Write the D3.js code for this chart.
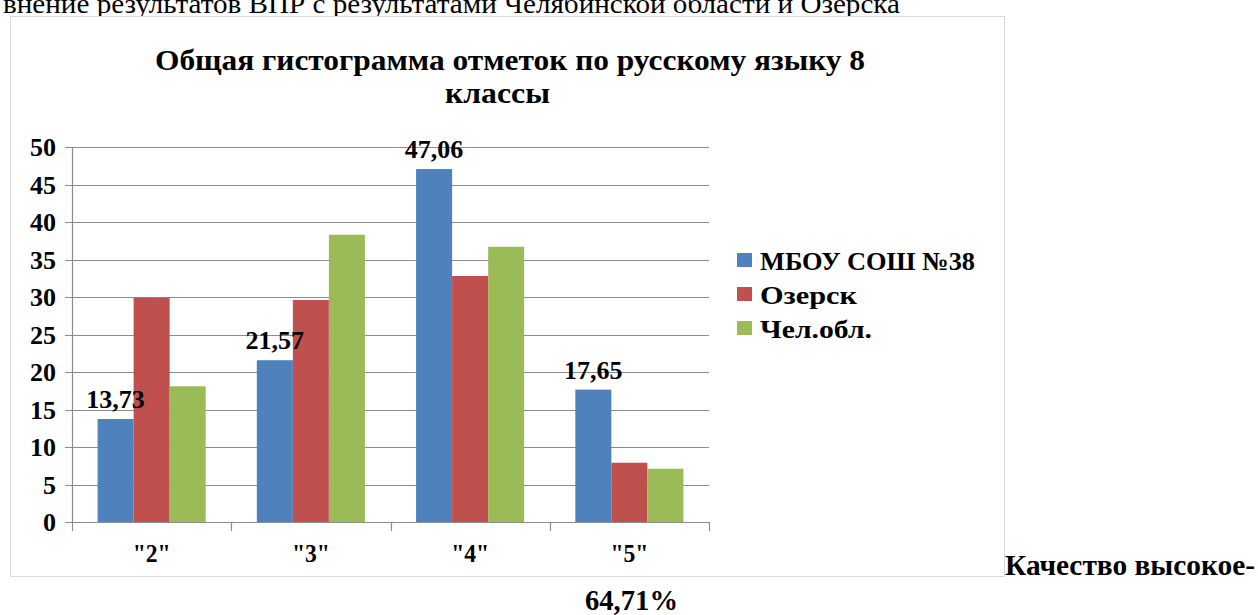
<!DOCTYPE html>
<html>
<head>
<meta charset="utf-8">
<script src="https://cdn.jsdelivr.net/npm/d3@7"></script>
<style>
  body { margin: 0; background: #fff; }
  svg text { font-family: "Liberation Serif", "Times New Roman", serif; fill: #000; }
  svg text.b { font-weight: bold; }
</style>
</head>
<body>
<div id="chart"></div>
<script>
// data
var categories = ['"2"', '"3"', '"4"', '"5"'];
var seriesNames = ["МБОУ СОШ №38", "Озерск", "Чел.обл."];
var school = [13.73, 21.57, 47.06, 17.65];
var ozersk = [29.9, 29.6, 32.8, 7.9];
var region = [18.1, 38.3, 36.7, 7.1];
var yTicks = [0, 5, 10, 15, 20, 25, 30, 35, 40, 45, 50];
var colors = ["#4f81bd", "#c0504d", "#9bbb59"];

var allSeries = [school, ozersk, region];

var svgWidth = 1258;
var svgHeight = 615;

var svg = d3.select("#chart")
    .append("svg")
    .attr("width", svgWidth)
    .attr("height", svgHeight);

// page text above (cut at the top edge, as in the page)
svg.append("text")
    .attr("x", 3)
    .attr("y", 13)
    .attr("font-size", "27px")
    .attr("textLength", 897)
    .attr("lengthAdjust", "spacingAndGlyphs")
    .text("внение результатов ВПР с результатами Челябинской области и Озерска");

// chart frame
svg.append("rect")
    .attr("x", 10.5)
    .attr("y", 16.5)
    .attr("width", 994)
    .attr("height", 560)
    .attr("fill", "#fff")
    .attr("stroke", "#d9d9d9");

// title
svg.append("text")
    .attr("class", "b")
    .attr("x", 155)
    .attr("y", 70)
    .attr("font-size", "29px")
    .attr("textLength", 710)
    .attr("lengthAdjust", "spacingAndGlyphs")
    .text("Общая гистограмма отметок по русскому языку 8");
svg.append("text")
    .attr("class", "b")
    .attr("x", 445)
    .attr("y", 103)
    .attr("font-size", "29px")
    .attr("textLength", 105)
    .attr("lengthAdjust", "spacingAndGlyphs")
    .text("классы");

var plot = { left: 72, right: 709, top: 147, bottom: 522 };

var x = d3.scaleBand()
    .domain(categories)
    .range([plot.left, plot.right])
    .paddingInner(0)
    .paddingOuter(0);

var xInner = d3.scaleBand()
    .domain(d3.range(allSeries.length))
    .range([0, x.bandwidth()])
    .paddingOuter(0.71)
    .paddingInner(0);

var y = d3.scaleLinear()
    .domain([0, 50])
    .range([plot.bottom, plot.top]);

// gridlines
svg.append("g")
    .selectAll("line")
    .data(yTicks)
    .enter()
    .append("line")
    .attr("x1", plot.left - 7)
    .attr("x2", plot.right)
    .attr("y1", d => Math.round(y(d)) + 0.5)
    .attr("y2", d => Math.round(y(d)) + 0.5)
    .attr("stroke", "#8c8c8c")
    .attr("stroke-width", 1.2);

// y axis line
svg.append("line")
    .attr("x1", plot.left + 0.5)
    .attr("x2", plot.left + 0.5)
    .attr("y1", plot.top)
    .attr("y2", plot.bottom)
    .attr("stroke", "#8c8c8c")
    .attr("stroke-width", 1.2);

// y tick labels
svg.append("g")
    .selectAll("text")
    .data(yTicks)
    .enter()
    .append("text")
    .attr("class", "b")
    .attr("x", 56)
    .attr("y", d => y(d) + 9)
    .attr("text-anchor", "end")
    .attr("font-size", "26px")
    .text(d => d);

// bars
categories.forEach(function (c, ci) {
    allSeries.forEach(function (s, si) {
        svg.append("rect")
            .attr("x", x(c) + xInner(si))
            .attr("y", y(s[ci]))
            .attr("width", xInner.bandwidth())
            .attr("height", y(0) - y(s[ci]))
            .attr("fill", colors[si]);
    });
});

// x axis line and tick marks
svg.append("line")
    .attr("x1", plot.left)
    .attr("x2", plot.right)
    .attr("y1", plot.bottom + 0.5)
    .attr("y2", plot.bottom + 0.5)
    .attr("stroke", "#8c8c8c")
    .attr("stroke-width", 1.2);

var boundaries = categories.map(c => x(c)).concat([plot.right]);
svg.append("g")
    .selectAll("line")
    .data(boundaries)
    .enter()
    .append("line")
    .attr("x1", d => Math.round(d) + 0.5)
    .attr("x2", d => Math.round(d) + 0.5)
    .attr("y1", plot.bottom)
    .attr("y2", plot.bottom + 9)
    .attr("stroke", "#8c8c8c")
    .attr("stroke-width", 1.2);

// x labels
svg.append("g")
    .selectAll("text")
    .data(categories)
    .enter()
    .append("text")
    .attr("class", "b")
    .attr("x", d => x(d) + x.bandwidth() / 2 - 19)
    .attr("y", 562)
    .attr("font-size", "25px")
    .attr("textLength", 38)
    .attr("lengthAdjust", "spacingAndGlyphs")
    .text(d => d);

// data labels for the school series
svg.append("g")
    .selectAll("text")
    .data(school)
    .enter()
    .append("text")
    .attr("class", "b")
    .attr("x", (d, i) => x(categories[i]) + xInner(0) + xInner.bandwidth() / 2)
    .attr("y", d => y(d) - 11)
    .attr("text-anchor", "middle")
    .attr("font-size", "26px")
    .text(d => d.toFixed(2).replace(".", ","));

// legend
var legendWidths = [215, 97, 112];
var legend = svg.append("g")
    .selectAll("g")
    .data(seriesNames)
    .enter()
    .append("g")
    .attr("transform", (d, i) => `translate(737, ${260 + i * 34})`);

legend.append("rect")
    .attr("x", 0)
    .attr("y", -7)
    .attr("width", 15)
    .attr("height", 14)
    .attr("fill", (d, i) => colors[i]);

legend.append("text")
    .attr("class", "b")
    .attr("x", 23)
    .attr("y", 10)
    .attr("font-size", "26px")
    .attr("textLength", (d, i) => legendWidths[i])
    .attr("lengthAdjust", "spacingAndGlyphs")
    .text(d => d);

// page text below
svg.append("text")
    .attr("class", "b")
    .attr("x", 1005)
    .attr("y", 575)
    .attr("font-size", "29px")
    .attr("textLength", 250)
    .attr("lengthAdjust", "spacingAndGlyphs")
    .text("Качество высокое-");

svg.append("text")
    .attr("class", "b")
    .attr("x", 585)
    .attr("y", 610)
    .attr("font-size", "29px")
    .attr("textLength", 93)
    .attr("lengthAdjust", "spacingAndGlyphs")
    .text("64,71%");
</script>
</body>
</html>
